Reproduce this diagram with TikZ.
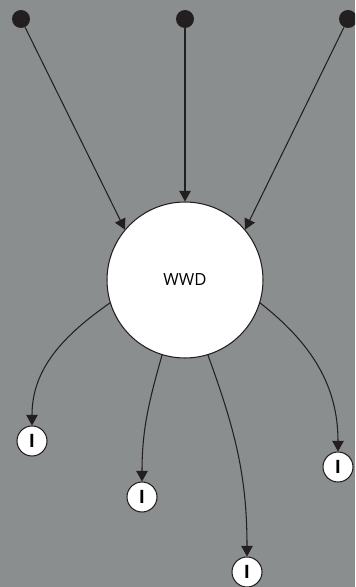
\documentclass[tikz,border=0pt]{standalone}
\usepackage{fontspec}
\setmainfont{Open Sans}
\usetikzlibrary{arrows.meta}
\definecolor{bggray}{HTML}{8A8E8F}
\definecolor{inkdark}{HTML}{231F20}
\tikzset{
  src/.style={circle, fill=inkdark, inner sep=0pt, minimum size=0.36cm},
  hub/.style={circle, draw=inkdark, line width=0.6pt, fill=white, minimum size=3.12cm, font=\fontsize{9.5}{11}\selectfont},
  leaf/.style={circle, draw=inkdark, line width=0.6pt, fill=white, inner sep=0pt, minimum size=0.6cm, font=\fontsize{10.5}{12}\selectfont\bfseries},
  flow/.style={draw=inkdark, line width=0.6pt, -{Triangle[length=6pt,width=6.5pt]}}
}
\begin{document}
\begin{tikzpicture}[x=0.02cm, y=-0.02cm]
        \fill[bggray] (0, 0) rectangle (355, 587);
        \useasboundingbox (0, 0) rectangle (355, 587);
        \clip (0, 0) rectangle (355, 587);

        \node[src] (s1) at (21, 19) {};
        \node[src] (s2) at (185, 19) {};
        \node[src] (s3) at (348, 19) {};
        \node[hub] (wwd) at (185, 280) {WWD};
        \node[leaf] (i1) at (32, 441) {I};
        \node[leaf] (i2) at (142, 497) {I};
        \node[leaf] (i3) at (247, 572) {I};
        \node[leaf] (i4) at (338, 467) {I};

        \draw[flow] (s1) -- (wwd.140);
        \draw[flow] (s2) -- (wwd);
        \draw[flow] (s3) -- (wwd.40);
        \draw[flow] (wwd.197) to[out=215, in=90] (i1);
        \draw[flow] (wwd.253) to[out=254, in=90] (i2);
        \draw[flow] (wwd.287) to[out=290, in=90] (i3);
        \draw[flow] (wwd.343) to[out=-38, in=90] (i4);

    \end{tikzpicture}
\end{document}
